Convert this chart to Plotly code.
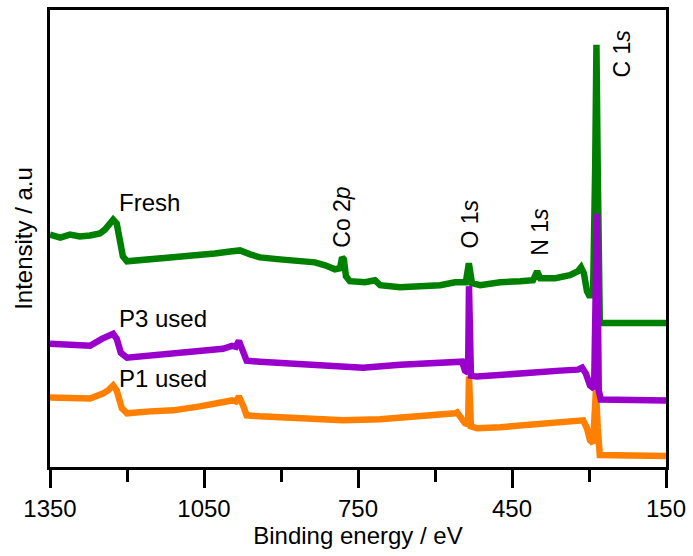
import plotly.graph_objects as go

# Binding energy (eV) and intensity (a.u.)
fresh_be = [1350, 1330, 1311, 1292, 1272, 1253, 1243, 1233, 1227, 1220, 1214, 1208, 1200,
            1175, 1136, 1097, 1058, 1029, 999, 980, 960, 941, 902, 863, 834, 814, 795, 785,
            781, 777.5, 773.5, 766, 736, 717, 707, 668, 629, 590, 561, 540, 534, 528, 512,
            473, 434, 409, 401, 395, 366, 337, 321.5, 315.5, 310, 304, 298, 292, 288, 285.5,
            283, 279, 275, 150]
fresh_int = [234, 231, 234, 232, 233, 235, 239, 245, 249, 245, 227, 212, 207,
             208, 210, 211, 213, 215, 217, 218, 214, 211, 209, 208, 206, 203, 199, 200,
             211, 209, 192, 187, 186, 188, 183, 181, 182, 183, 186, 186, 205, 185, 183,
             186, 187, 188, 197, 190, 190, 193, 197, 201, 195, 177, 171, 177, 300, 425,
             300, 147, 145, 145]

p3_be = [1350, 1311, 1272, 1249, 1237, 1227, 1220, 1212, 1200, 1155, 1110, 1058, 1013, 995.5,
         988, 982, 974, 967, 941, 882, 824, 740, 668, 610, 561, 547, 541.5, 535.5, 533.8,
         530, 518, 473, 415, 356, 321.5, 313.5, 306, 298, 290, 287, 284.5, 281, 277, 150]
p3_int = [124, 123, 122, 129, 132, 134, 129, 115, 110, 112, 114, 117, 119, 122,
          121, 127, 117, 107, 106, 104, 102, 100, 103, 105, 107, 106, 97, 95, 182,
          92, 91, 93, 95, 97, 98, 100, 94, 82, 79, 160, 255, 77, 68, 67]

p1_be = [1350, 1311, 1272, 1247, 1237, 1227, 1220, 1210, 1200, 1155, 1110, 1058, 1013, 995.5,
         988, 982, 974, 967, 941, 882, 824, 779, 707, 643, 590, 561, 557, 549, 541.5, 535.5,
         533.8, 530, 518, 473, 415, 356, 321.5, 311.5, 304, 298, 292, 286.5, 283, 279, 150]
p1_int = [70, 69, 69, 74, 77, 82, 77, 59, 54, 56, 57, 61, 65, 67,
          66, 71, 62, 52, 51, 50, 49, 47, 48, 50, 52, 54, 55, 49, 44, 43,
          91, 41, 39, 40, 42, 44, 46, 47, 39, 27, 24, 77, 40, 12, 11]

series_names = ["Fresh", "P1 used", "P3 used"]
series_colors = ["#008000", "#FF8000", "#9900CC"]

x_ticks = [1350, 1050, 750, 450, 150]
x_minor = [1200, 900, 600, 300]

# (text, x, y) labels
peak_labels = [("Co 2<i>p</i>", 781, 252), ("O 1<i>s</i>", 532, 245),
               ("N 1<i>s</i>", 397, 237), ("C 1<i>s</i>", 236, 416)]
series_labels = [("Fresh", 1219, 266), ("P3 used", 1219, 149), ("P1 used", 1219, 89)]

FONT = "Liberation Sans, Arial, sans-serif"

fig = go.Figure()
for name, xs, ys, col in zip(series_names, [fresh_be, p1_be, p3_be],
                             [fresh_int, p1_int, p3_int], series_colors):
    fig.add_trace(go.Scatter(x=xs, y=ys, mode="lines", name=name,
                             line=dict(color=col, width=6.5), showlegend=False))

for txt, x, y in peak_labels:
    fig.add_annotation(x=x, y=y, text=txt, textangle=-90, showarrow=False,
                       xanchor="center", yanchor="middle",
                       font=dict(family=FONT, size=23, color="black"))
for txt, x, y in series_labels:
    fig.add_annotation(x=x, y=y, text=txt, showarrow=False,
                       xanchor="left", yanchor="middle",
                       font=dict(family=FONT, size=24, color="black"))

fig.update_layout(
    width=693, height=556,
    margin=dict(l=50, r=27, t=7, b=89),
    paper_bgcolor="white", plot_bgcolor="white",
    font=dict(family=FONT, size=24, color="black"),
)
fig.update_xaxes(
    range=[1350, 150], tickvals=x_ticks, ticktext=[str(v) for v in x_ticks],
    ticks="outside", ticklen=18, tickwidth=2.5, tickcolor="black",
    minor=dict(tickvals=x_minor, ticks="outside", ticklen=12, tickwidth=2.5, tickcolor="black"),
    showline=True, linewidth=2.5, linecolor="black", mirror=True,
    showgrid=False, zeroline=False,
    tickfont=dict(family=FONT, size=24),
    title=dict(text="Binding energy / eV", font=dict(family=FONT, size=24), standoff=0),
)
fig.update_yaxes(
    range=[0, 460], showticklabels=False, ticks="",
    showline=True, linewidth=2.5, linecolor="black", mirror=True,
    showgrid=False, zeroline=False,
    title=dict(text="Intensity / a.u", font=dict(family=FONT, size=24), standoff=8),
)

fig.write_html("out.html")
